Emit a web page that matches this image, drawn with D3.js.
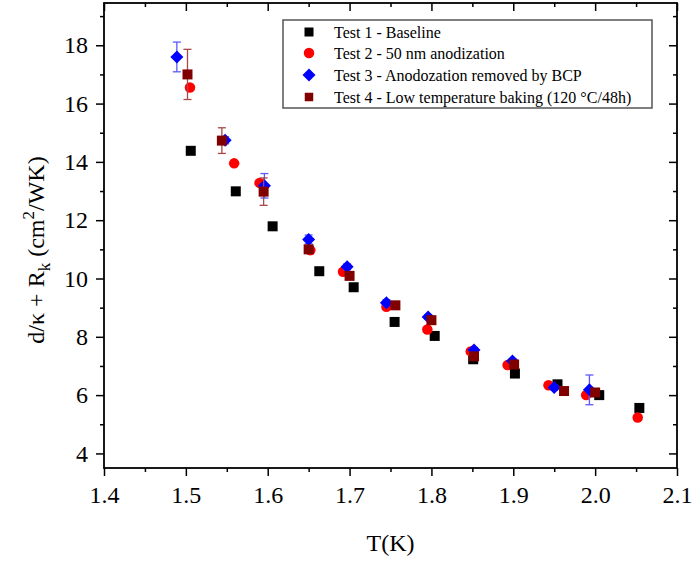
<!DOCTYPE html>
<html><head><meta charset="utf-8">
<script src="https://cdn.jsdelivr.net/npm/d3@7"></script>
<style>
html,body{margin:0;padding:0;background:#fff;}
svg{display:block;}
svg text{font-family:"Liberation Serif","Times New Roman",Times,serif;}
</style></head>
<body>
<svg id="chart" width="695" height="563"></svg>
<script>
// ---- data ----
const xTicks = [1.4,1.5,1.6,1.7,1.8,1.9,2.0,2.1];
const yTicks = [4,6,8,10,12,14,16,18];

const t1T = [1.506,1.561,1.606,1.663,1.705,1.755,1.804,1.851,1.902,1.954,2.005,2.054];
const t1V = [14.38,12.99,11.79,10.25,9.70,8.51,8.03,7.23,6.74,6.37,6.00,5.56];

const t2T = [1.505,1.559,1.590,1.652,1.692,1.745,1.795,1.848,1.893,1.943,1.989,2.052];
const t2V = [16.55,13.95,13.28,10.97,10.23,9.03,8.25,7.50,7.03,6.34,6.00,5.23];

const t3T = [1.489,1.548,1.596,1.650,1.697,1.745,1.796,1.852,1.899,1.950,1.993];
const t3V = [17.60,14.74,13.18,11.34,10.40,9.17,8.68,7.55,7.17,6.26,6.18];
const t3E = [0.51,0.12,0.42,0.15,0.10,0.10,0.08,0.08,0.08,0.08,0.51];

const t4T = [1.502,1.544,1.595,1.650,1.700,1.756,1.800,1.852,1.901,1.962,2.000];
const t4V = [17.00,14.73,12.98,11.00,10.09,9.08,8.57,7.33,7.05,6.14,6.09];
const t4E = [0.86,0.44,0.47,0.10,0.10,0.10,0.08,0.08,0.08,0.08,0.08];

const legendLabels = ["Test 1 - Baseline","Test 2 - 50 nm anodization","Test 3 - Anodozation removed by BCP","Test 4 - Low temperature baking (120 \u00B0C/48h)"];

// ---- chart ----
const FONT = "Liberation Serif, Times New Roman, Times, serif";
const svg = d3.select("#chart");
const L=104, R=677, T=3, B=468;
const x = d3.scaleLinear().domain([1.4,2.1]).range([L,R]);
const y = d3.scaleLinear().domain([3.5,19.45]).range([B,T]);

const xMinor = d3.range(1.45,2.1,0.1).map(d=>+d.toFixed(2));
const yMinor = [5,7,9,11,13,15,17,19];

function styleAxis(g){
  g.attr("font-family",FONT);
  g.select(".domain").remove();
  g.selectAll(".tick line").attr("stroke","#000").attr("stroke-width",1.5);
  g.selectAll(".tick text").attr("fill","#000").attr("font-size",24).attr("font-family",FONT);
}
// bottom
svg.append("g").attr("transform",`translate(0,${B})`)
  .call(d3.axisBottom(x).tickValues(xTicks).tickSize(8).tickPadding(10).tickFormat(d3.format(".1f"))).call(styleAxis);
svg.append("g").attr("transform",`translate(0,${B})`)
  .call(d3.axisBottom(x).tickValues(xMinor).tickSize(4).tickFormat("")).call(styleAxis);
// top (inward)
svg.append("g").attr("transform",`translate(0,${T})`)
  .call(d3.axisBottom(x).tickValues(xTicks).tickSize(8).tickFormat("")).call(styleAxis);
svg.append("g").attr("transform",`translate(0,${T})`)
  .call(d3.axisBottom(x).tickValues(xMinor).tickSize(4).tickFormat("")).call(styleAxis);
// left
svg.append("g").attr("transform",`translate(${L},0)`)
  .call(d3.axisLeft(y).tickValues(yTicks).tickSize(8).tickPadding(8).tickFormat(d3.format("d"))).call(styleAxis);
svg.append("g").attr("transform",`translate(${L},0)`)
  .call(d3.axisLeft(y).tickValues(yMinor).tickSize(4).tickFormat("")).call(styleAxis);
// right (inward)
svg.append("g").attr("transform",`translate(${R},0)`)
  .call(d3.axisLeft(y).tickValues(yTicks).tickSize(8).tickFormat("")).call(styleAxis);
svg.append("g").attr("transform",`translate(${R},0)`)
  .call(d3.axisLeft(y).tickValues(yMinor).tickSize(4).tickFormat("")).call(styleAxis);

// frame
svg.append("rect").attr("x",L).attr("y",T).attr("width",R-L).attr("height",B-T)
  .attr("fill","none").attr("stroke","#000").attr("stroke-width",1.8);

// series definitions
const series = [
  {T:t1T, V:t1V, E:null, color:"#000000", ecolor:"#000", shape:"square", size:10},
  {T:t2T, V:t2V, E:null, color:"#ff0000", ecolor:"#f00", shape:"circle", size:10.5},
  {T:t3T, V:t3V, E:t3E, color:"#0000ff", ecolor:"#5a5aff", shape:"diamond", size:13},
  {T:t4T, V:t4V, E:t4E, color:"#800000", ecolor:"#a84848", shape:"square", size:10}
];

function symbolPath(shape,size){
  const h=size/2;
  if(shape==="square") return `M${-h},${-h}H${h}V${h}H${-h}Z`;
  if(shape==="diamond") return `M0,${-h}L${h},0L0,${h}L${-h},0Z`;
  return d3.arc()({innerRadius:0,outerRadius:h,startAngle:0,endAngle:2*Math.PI});
}

series.forEach(s=>{
  const g = svg.append("g");
  const pts = s.T.map((t,i)=>({t, v:s.V[i], e:s.E?s.E[i]:0}));
  if(s.E){
    const eg = g.append("g").attr("stroke",s.ecolor).attr("stroke-width",1.3).attr("fill","none");
    pts.forEach(p=>{
      const cx=x(p.t), y1=y(p.v+p.e), y2=y(p.v-p.e);
      eg.append("line").attr("x1",cx).attr("x2",cx).attr("y1",y1).attr("y2",y2);
      eg.append("line").attr("x1",cx-4).attr("x2",cx+4).attr("y1",y1).attr("y2",y1);
      eg.append("line").attr("x1",cx-4).attr("x2",cx+4).attr("y1",y2).attr("y2",y2);
    });
  }
  g.selectAll("path.m").data(pts).join("path").attr("class","m")
    .attr("d",symbolPath(s.shape,s.size))
    .attr("transform",d=>`translate(${x(d.t)},${y(d.v)})`)
    .attr("fill",s.color);
});

// legend
const lg = svg.append("g");
lg.append("rect").attr("x",283).attr("y",20).attr("width",369).attr("height",88)
  .attr("fill","#fff").attr("stroke","#555").attr("stroke-width",1.5);
const rowsY=[32,53,75,97];
const legSizes=[9,10.5,13,8.5];
series.forEach((s,i)=>{
  lg.append("path").attr("d",symbolPath(s.shape,legSizes[i]))
    .attr("transform",`translate(309,${rowsY[i]})`).attr("fill",s.color);
  lg.append("text").attr("x",334).attr("y",rowsY[i]+5.5)
    .attr("font-size",16).attr("fill","#000").text(legendLabels[i]);
});

// axis titles
svg.append("text").attr("x",(L+R)/2).attr("y",551).attr("text-anchor","middle")
  .attr("font-size",24).attr("fill","#000").text("T(K)");

const yt = svg.append("text").attr("transform","translate(44,250) rotate(-90)")
  .attr("text-anchor","middle").attr("font-size",24).attr("fill","#000");
yt.append("tspan").text("d/\u03BA + R");
yt.append("tspan").attr("dy",6).attr("font-size",17).text("k");
yt.append("tspan").attr("dy",-6).text(" (cm");
yt.append("tspan").attr("dy",-10).attr("font-size",17).text("2");
yt.append("tspan").attr("dy",10).text("/WK)");
</script>
</body></html>
